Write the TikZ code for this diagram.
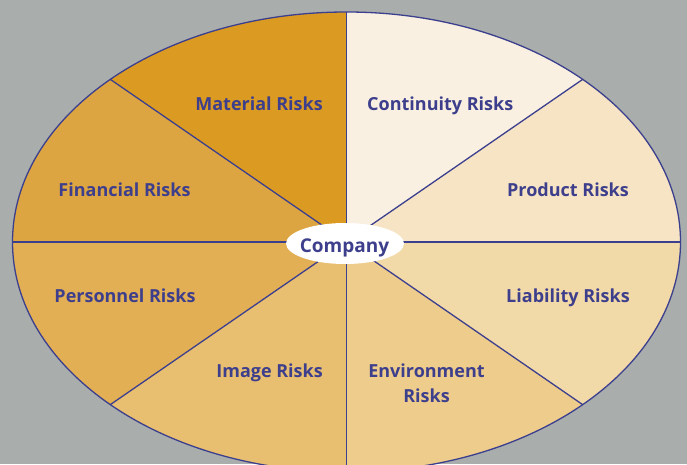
\documentclass[tikz,border=0pt]{standalone}
\usepackage{fontspec}
\setsansfont{Open Sans}
\usetikzlibrary{calc}
\definecolor{bggrey}{HTML}{A9ADAC}
\definecolor{rim}{HTML}{3B3F8E}
\definecolor{ink}{HTML}{3D3F8C}
\definecolor{cMaterial}{HTML}{DB9B22}
\definecolor{cFinancial}{HTML}{DDA542}
\definecolor{cPersonnel}{HTML}{E2AF55}
\definecolor{cImage}{HTML}{E8BF70}
\definecolor{cEnvironment}{HTML}{EECC8C}
\definecolor{cLiability}{HTML}{F2D9A8}
\definecolor{cProduct}{HTML}{F7E4C4}
\definecolor{cContinuity}{HTML}{FAF0E1}
\tikzset{
  riskLabel/.style={inner sep=0pt, text=ink, font=\sffamily\bfseries\fontsize{18}{25}\selectfont},
  radius line/.style={draw=rim, line width=1.3pt},
}
\begin{document}
\begin{tikzpicture}[x=1pt,y=1pt]
  \useasboundingbox (0,0) rectangle (687,464);
  \fill[bggrey] (0,0) rectangle (687,464);
  \coordinate (c) at (346.5,222);
  \begin{scope}
    \clip (0,0) rectangle (687,464);
    % eight sectors of the risk ellipse
    \foreach \a/\col in {90/cMaterial,135/cFinancial,180/cPersonnel,225/cImage,
                         270/cEnvironment,315/cLiability,0/cProduct,45/cContinuity}{
      \fill[\col] (c) -- ($(c)+(\a:334 and 230)$)
        arc[start angle=\a, delta angle=45, x radius=334, y radius=230] -- cycle;
    }
    % spokes from the centre to the rim
    \foreach \a in {0,45,...,315}{
      \coordinate (rim\a) at ($(c)+(\a:334 and 230)$);
      \draw[radius line] (c) -- (rim\a);
    }
    \draw[radius line] (c) ellipse[x radius=334, y radius=230];
  \end{scope}
  % centre label
  \fill[white] (345,220.5) ellipse[x radius=59, y radius=20.5];
  \node[riskLabel, font=\sffamily\bfseries\fontsize{19}{24}\selectfont, anchor=base] (company) at (344.5,212) {Company};
  % sector labels
  \node[riskLabel, anchor=base east] (material) at (323,353) {Material Risks};
  \node[riskLabel, anchor=base west] (continuity) at (367,353) {Continuity Risks};
  \node[riskLabel, anchor=base] (financial) at (124.5,268) {Financial Risks};
  \node[riskLabel, anchor=base] (product) at (568,268) {Product Risks};
  \node[riskLabel, anchor=base] (personnel) at (125,162) {Personnel Risks};
  \node[riskLabel, anchor=base] (liability) at (568,162) {Liability Risks};
  \node[riskLabel, anchor=base east] (image) at (323,87) {Image Risks};
  \node[riskLabel, anchor=base] (environment) at (426.5,87)
    {\begin{tabular}[t]{@{}c@{}}Environment\\Risks\end{tabular}};
\end{tikzpicture}
\end{document}
